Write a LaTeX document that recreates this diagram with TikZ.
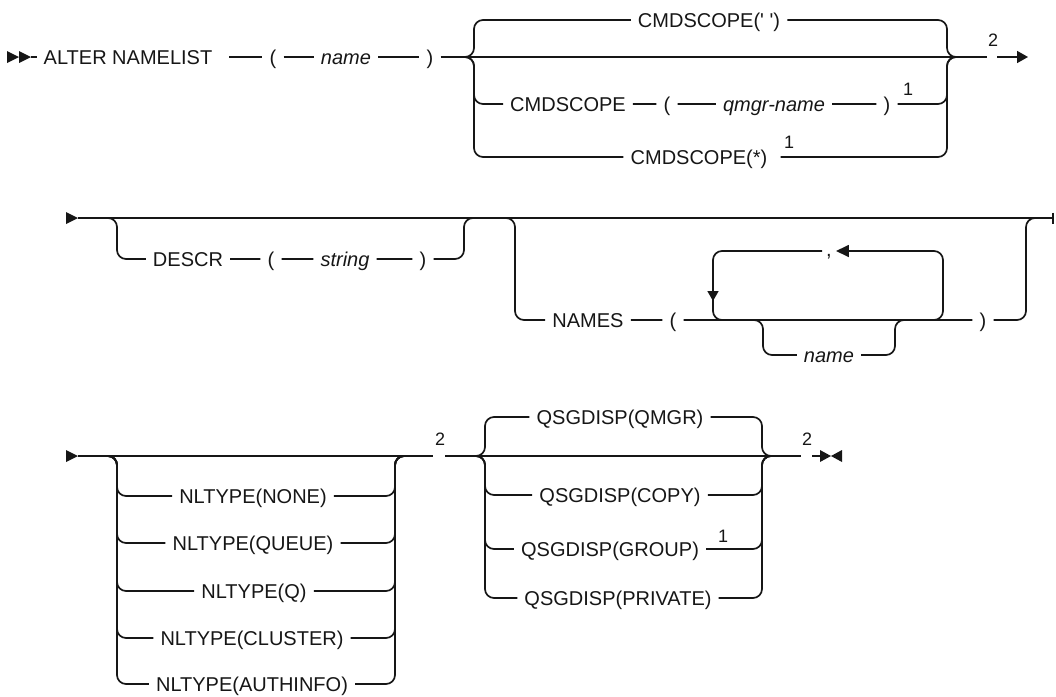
\documentclass[tikz,border=0pt]{standalone}
\usepackage{fontspec}
\usepackage{xcolor}
\usepackage{tikz}
\usetikzlibrary{arrows.meta,positioning}
\newfontfamily\railfont{Liberation Sans}
\definecolor{railink}{HTML}{161616}

\tikzset{
  rail/.style={draw=railink, line width=1.7pt},
  branch/.style={rail, rounded corners=9pt},
  kw/.style={text=railink, font=\railfont\fontsize{20}{24}\selectfont,
             inner xsep=7pt, inner ysep=1pt, text height=14.5pt, text depth=0pt},
  var/.style={kw, font=\railfont\itshape\fontsize{20}{24}\selectfont},
  fnote/.style={text=railink, font=\railfont\fontsize{18}{20}\selectfont, inner sep=0pt},
  railtip/.style={-{Triangle[length=11pt,width=12pt]}}
}
\newcommand{\railstart}[1]{\fill[railink] (#1) ++(-12,-6) -- ++(12,6) -- ++(-12,6) -- cycle;}

\begin{document}
\begin{tikzpicture}[x=1pt, y=-1pt]
  \useasboundingbox (0,0) rectangle (1056,696);

  % line 1
  \coordinate (headA) at (19,57);
  \coordinate (startA) at (31,57);
  \railstart{headA}
  \railstart{startA}
  \node[kw] (alter) at (128,57) {ALTER NAMELIST};
  \node[kw] (lpA) at (273,57) {(};
  \node[var] (nameA) at (346,57) {name};
  \node[kw] (rpA) at (430,57) {)};
  \coordinate (csIn) at (464,57);
  \coordinate (csOut) at (957,57);
  \coordinate (gapAL) at (987,57);
  \coordinate (gapAR) at (997,57);
  \coordinate (endA) at (1028,57);
  \node[fnote] (fnA) at (993,40) {2};
  \draw[rail] (startA) -- (alter);
  \draw[rail, shorten <=10pt] (alter) -- (lpA);
  \draw[rail] (lpA) -- (nameA) -- (rpA) -- (csIn) -- (csOut) -- (gapAL);
  \draw[rail, railtip] (gapAR) -- (endA);

  \node[kw] (scBlank) at (709,20) {CMDSCOPE(\textquotesingle\ \textquotesingle)};
  \node[kw] (scKw) at (568,104) {CMDSCOPE};
  \node[kw] (lpQ) at (667,104) {(};
  \node[var] (qmgr) at (774,104) {qmgr-name};
  \node[kw] (rpQ) at (887,104) {)};
  \node[fnote] (fnQ) at (908,89) {1};
  \node[kw] (scAll) at (699,157) {CMDSCOPE(*)};
  \node[fnote] (fnAll) at (789,142) {1};
  \draw[branch] (csIn) -| (474,20) -- (scBlank);
  \draw[branch] (scBlank.east) -| (947,57) -- (csOut);
  \draw[branch] (csIn) -| (474,104) -- (scKw) -- (lpQ) -- (qmgr) -- (rpQ);
  \draw[branch] (rpQ.east) -| (947,57) -- (csOut);
  \draw[branch] (csIn) -| (474,157) -- (scAll);
  \draw[branch, shorten <=6pt] (scAll.east) -| (947,57) -- (csOut);

  % line 2
  \coordinate (headB) at (78,218);
  \railstart{headB}
  \coordinate (dIn) at (107,218);
  \coordinate (dOut) at (474,218);
  \coordinate (nIn) at (505,218);
  \coordinate (nOut) at (1036,218);
  \coordinate (endB) at (1054,218);
  \draw[rail, -{Bar[width=11pt]}] (headB) -- (endB);

  \node[kw] (descr) at (188,259) {DESCR};
  \node[kw] (lpD) at (271,259) {(};
  \node[var] (strD) at (345,259) {string};
  \node[kw] (rpD) at (423,259) {)};
  \draw[branch] (dIn) -| (117,259) -- (descr) -- (lpD) -- (strD) -- (rpD);
  \draw[branch] (rpD.east) -| (464,218) -- (dOut);

  \node[kw] (names) at (588,320) {NAMES};
  \node[kw] (lpN) at (673,320) {(};
  \node[kw] (rpN) at (983,320) {)};
  \draw[branch] (nIn) -| (515,320) -- (names) -- (lpN) -- (rpN);
  \draw[branch] (rpN.east) -| (1026,218) -- (nOut);

  \coordinate (nmIn) at (753,320);
  \coordinate (nmOut) at (905,320);
  \node[var] (nameN) at (829,355) {name};
  \draw[branch] (nmIn) -| (763,355) -- (nameN);
  \draw[branch] (nameN.east) -| (895,320) -- (nmOut);

  \coordinate (loopR) at (931,320);
  \coordinate (loopL) at (725,320);
  \node[kw, inner xsep=4pt, text height=10pt] (comma) at (829,251) {,};
  \draw[branch, -{Triangle[length=13pt,width=12pt]}] (loopR) -| (943,251) -- (comma);
  \draw[branch, -{Triangle[length=10pt,width=11pt]}] (comma.west) -| (713,301);
  \draw[branch] (713,296) |- (loopL);

  % line 3
  \coordinate (headC) at (78,456);
  \railstart{headC}
  \coordinate (ntIn) at (107,456);
  \coordinate (ntOut) at (405,456);
  \coordinate (gapCL) at (433,456);
  \coordinate (gapCR) at (445,456);
  \coordinate (qsIn) at (475,456);
  \coordinate (qsOut) at (772,456);
  \coordinate (gapDL) at (801,456);
  \coordinate (gapDR) at (812,456);
  \coordinate (endC) at (820,456);
  \node[fnote] (fnC) at (440,439) {2};
  \node[fnote] (fnD) at (807,439) {2};
  \draw[rail] (headC) -- (gapCL);
  \draw[rail] (gapCR) -- (gapDL);
  \draw[rail] (gapDR) -- (endC);
  \fill[railink] (820,450) -- (831,456) -- (820,462) -- cycle;
  \fill[railink] (842,450) -- (831,456) -- (842,462) -- cycle;

  \node[kw] (ntNone) at (253,496) {NLTYPE(NONE)};
  \node[kw] (ntQueue) at (253,543) {NLTYPE(QUEUE)};
  \node[kw] (ntQ) at (254,591) {NLTYPE(Q)};
  \node[kw] (ntCluster) at (252,638) {NLTYPE(CLUSTER)};
  \node[kw] (ntAuth) at (252,684) {NLTYPE(AUTHINFO)};
  \foreach \nt/\y in {ntNone/496, ntQueue/543, ntQ/591, ntCluster/638, ntAuth/684} {
    \draw[branch] (ntIn) -| (117,\y) -- (\nt);
    \draw[branch] (\nt.east) -| (395,456) -- (ntOut);
  }

  \node[kw] (qsQmgr) at (620,417) {QSGDISP(QMGR)};
  \node[kw] (qsCopy) at (620,495) {QSGDISP(COPY)};
  \node[kw] (qsGroup) at (610,549) {QSGDISP(GROUP)};
  \node[kw] (qsPriv) at (618,598) {QSGDISP(PRIVATE)};
  \node[fnote] (fnG) at (723,536) {1};
  \foreach \qs/\y in {qsQmgr/417, qsCopy/495, qsGroup/549, qsPriv/598} {
    \draw[branch] (qsIn) -| (485,\y) -- (\qs);
    \draw[branch] (\qs.east) -| (762,456) -- (qsOut);
  }
\end{tikzpicture}
\end{document}
